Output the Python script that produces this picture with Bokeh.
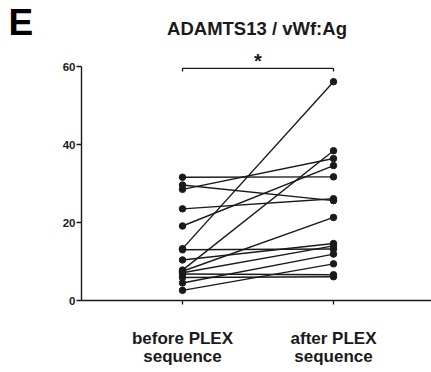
from bokeh.plotting import figure
from bokeh.models import Range1d, FixedTicker, Label
from bokeh.core.properties import value
from bokeh.embed import file_html
from bokeh.resources import INLINE

categories = ["before PLEX\nsequence", "after PLEX\nsequence"]
before = [31.6, 29.6, 28.5, 23.5, 19.1, 13.3, 13.0, 10.4, 7.8, 7.5, 7.1, 6.8, 5.9, 4.5, 2.6]
after = [31.7, 25.6, 36.4, 26.1, 34.6, 56.1, 13.2, 14.6, 38.4, 21.3, 14.0, 6.6, 6.1, 11.9, 9.4]
y_ticks = [0, 20, 40, 60]
title_text = "ADAMTS13 / vWf:Ag"
panel_letter = "E"
sig_mark = "*"
sig_level = 59.5

FONT = "Liberation Sans"
INK = "#1a1a1a"
W, H = 431, 372

# pixel layout (px from the canvas top-left) -> data mapping
X1_PX, X2_PX = 182.0, 333.0      # category positions
Y0_PX, Y60_PX = 300.0, 66.0      # value 0 and 60
xs_per_px = 1.0 / (X2_PX - X1_PX)
ys_per_px = 60.0 / (Y0_PX - Y60_PX)


def dx(px):
    return 1 + (px - X1_PX) * xs_per_px


def dy(py):
    return (Y0_PX - py) * ys_per_px


p = figure(width=W, height=H, output_backend="svg", toolbar_location=None,
           x_range=Range1d(dx(0), dx(W)), y_range=Range1d(dy(H), dy(0)), min_border=0)
p.outline_line_color = None
p.xgrid.grid_line_color = None
p.ygrid.grid_line_color = None
p.background_fill_color = "white"
p.border_fill_color = "white"

xpos = [1, 2]
xs = [xpos for _ in before]
ys = [[b, a] for b, a in zip(before, after)]
p.multi_line(xs, ys, line_color=INK, line_width=1.4)
p.scatter([xpos[0]] * len(before), before, size=6.5, color=INK)
p.scatter([xpos[1]] * len(after), after, size=6.5, color=INK)

# significance bracket
p.line([xpos[0], xpos[0], xpos[1], xpos[1]],
       [sig_level - 0.8, sig_level, sig_level, sig_level - 0.8], line_color=INK, line_width=1.3)
p.text([sum(xpos) / 2], [sig_level + 1.9], text=[sig_mark], text_align="center",
       text_baseline="alphabetic", text_font=value(FONT), text_font_style="bold",
       text_font_size="20px", text_color=INK)

y_axis_x = dx(81)

# y axis
ya = p.yaxis[0]
ya.fixed_location = y_axis_x
ya.bounds = (0, 60)
ya.ticker = FixedTicker(ticks=y_ticks)
ya.minor_tick_line_color = None
ya.major_tick_in = 0
ya.major_tick_out = 5
ya.axis_line_width = 1.4
ya.axis_line_color = INK
ya.major_tick_line_color = INK
ya.major_tick_line_width = 1.3
ya.major_label_standoff = 1
ya.major_label_text_font = FONT
ya.major_label_text_font_style = "bold"
ya.major_label_text_font_size = "11.5px"
ya.major_label_text_color = INK

# x axis
xa = p.xaxis[0]
xa.fixed_location = 0
xa.bounds = (y_axis_x, dx(W))
xa.ticker = FixedTicker(ticks=xpos)
xa.major_label_overrides = {xpos[0]: "", xpos[1]: ""}
xa.major_label_standoff = 0
xa.minor_tick_line_color = None
xa.major_tick_in = 0
xa.major_tick_out = 4
xa.axis_line_width = 1.4
xa.axis_line_color = INK
xa.major_tick_line_color = INK
xa.major_tick_line_width = 1.3

line_baselines_px = [337.5, 355.5]
for xp, cat in zip(xpos, categories):
    for by, line in zip(line_baselines_px, cat.split("\n")):
        p.add_layout(Label(x=xp, y=dy(by), text=line,
                           text_align="center", text_baseline="alphabetic", text_font=FONT,
                           text_font_style="bold", text_font_size="17px", text_color=INK))

p.add_layout(Label(x=dx(256.5), y=dy(27.5), text=title_text,
                   text_align="center", text_baseline="alphabetic", text_font=FONT,
                   text_font_style="bold", text_font_size="18.5px", text_color=INK))
p.add_layout(Label(x=dx(8), y=dy(22), text=panel_letter,
                   text_align="left", text_baseline="alphabetic", text_font=FONT,
                   text_font_style="bold", text_font_size="37px", text_color="#000000"))

open("out.html", "w").write(file_html(p, INLINE))
